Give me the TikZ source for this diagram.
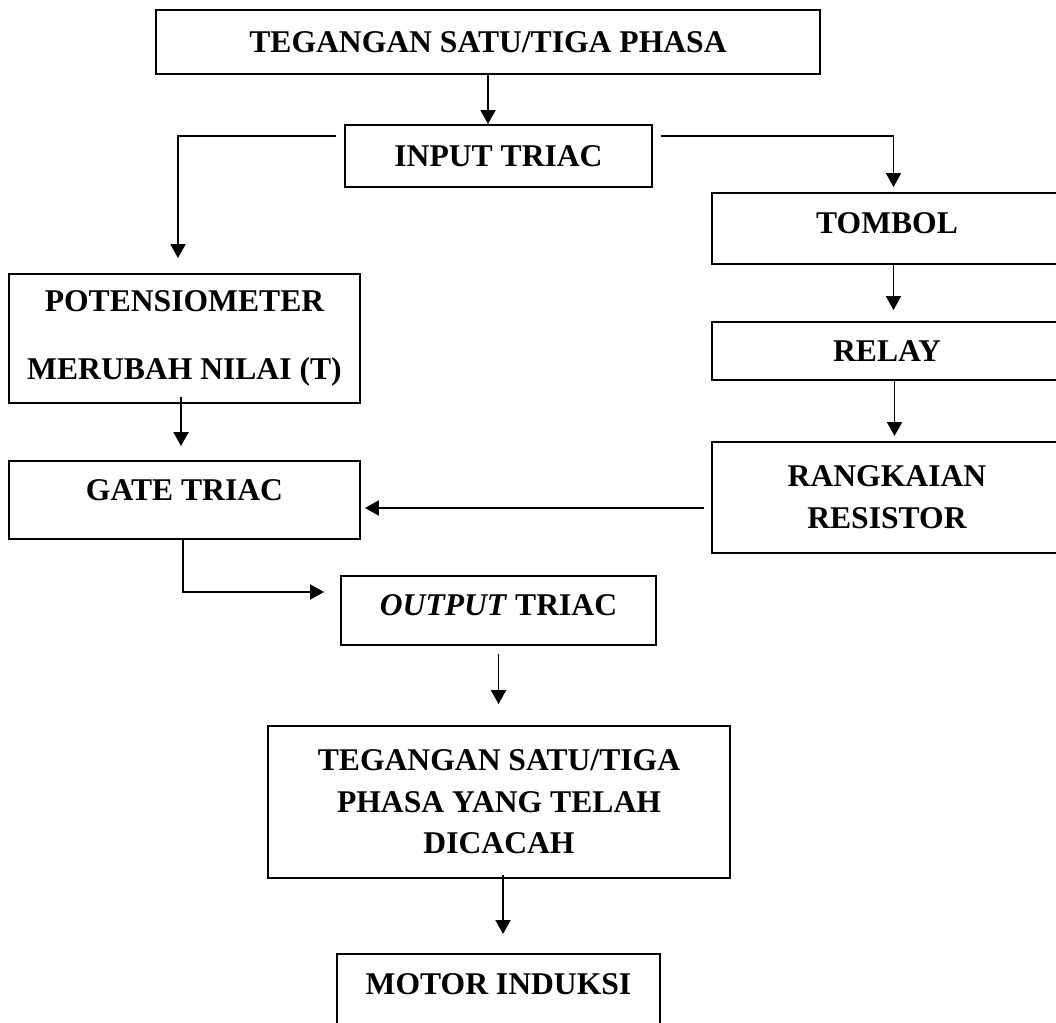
\documentclass[tikz,border=0pt]{standalone}
\usepackage{fontspec}
\setmainfont{Liberation Serif}
\usepackage{tikz}
\usetikzlibrary{arrows.meta,positioning}

\begin{document}
\begin{tikzpicture}[x=0.02cm,y=-0.02cm,>={Triangle[length=0.28cm,width=0.3cm]},line width=1.1pt,
        blok/.style={draw,rectangle,inner sep=2pt,font=\fontsize{18}{23.7}\selectfont\bfseries}]
        \path[use as bounding box] (0,0) rectangle (1056,1023);
        \clip (0,0) rectangle (1056,1023);
        \node[blok,minimum width=13.28cm,minimum height=1.28cm] (teg) at (488,42) {TEGANGAN SATU/TIGA PHASA};
        \node[blok,minimum width=6.14cm,minimum height=1.24cm] (input) at (498.5,156) {INPUT TRIAC};
        \node[blok,align=center,minimum width=7.02cm,minimum height=2.58cm] (poten) at (184.5,338.5) {POTENSIOMETER\\[14.6pt]MERUBAH NILAI (T)};
        \node[blok,minimum width=7cm,minimum height=1.42cm,text depth=0.22cm] (tombol) at (887,228.5) {TOMBOL};
        \node[blok,minimum width=7cm,minimum height=1.16cm] (relay) at (887,351) {RELAY};
        \node[blok,align=center,minimum width=7cm,minimum height=2.22cm] (resistor) at (887,497.5) {RANGKAIAN\\RESISTOR};
        \node[blok,minimum width=7.02cm,minimum height=1.56cm,text depth=0.4cm] (gate) at (184.5,500) {GATE TRIAC};
        \node[blok,minimum width=6.3cm,minimum height=1.38cm,text depth=0.22cm] (output) at (498.5,610.5) {\textit{OUTPUT} TRIAC};
        \node[blok,align=center,minimum width=9.24cm,minimum height=3.04cm] (cacah) at (499,802) {TEGANGAN SATU/TIGA\\PHASA YANG TELAH\\DICACAH};
        \node[blok,anchor=north,minimum width=6.46cm,inner ysep=0pt,text height=0.81cm,text depth=2cm] (motor) at (498.5,953) {MOTOR INDUKSI};
        % cabang dari input triac
        \draw[->] (teg) -- (teg |- input.north);
        \draw[->,shorten >=0.3cm] ([xshift=-0.16cm,yshift=0.4cm]input.west) -| ([xshift=-0.13cm]poten.north);
        \draw[->,shorten >=0.1cm] ([xshift=0.16cm,yshift=0.4cm]input.east) -| ([xshift=0.13cm]tombol.north);
        % jalur kanan
        \draw[->,shorten >=0.22cm] ([xshift=0.13cm]tombol.south) -- ([xshift=0.13cm]tombol.south |- relay.north);
        \draw[->,shorten >=0.1cm] ([xshift=0.15cm]relay.south) -- ([xshift=0.15cm]relay.south |- resistor.north);
        \draw[->,shorten <=0.14cm,shorten >=0.08cm] ([yshift=-0.21cm]resistor.west) -- ([yshift=-0.21cm]resistor.west -| gate.east);
        % jalur kiri
        \draw[->,shorten <=-0.14cm,shorten >=0.28cm] ([xshift=-0.07cm]poten.south) -- ([xshift=-0.07cm]poten.south |- gate.north);
        \draw[->,shorten >=0.32cm] ([xshift=-0.03cm]gate.south) |- ([yshift=0.37cm]output.west);
        \draw[->,shorten <=0.16cm,shorten >=0.42cm] (output) -- (output |- cacah.north);
        \draw[->,shorten <=-0.08cm,shorten >=0.38cm] ([xshift=0.08cm]cacah.south) -- ([xshift=0.08cm]cacah.south |- motor.north);
\end{tikzpicture}
\end{document}
